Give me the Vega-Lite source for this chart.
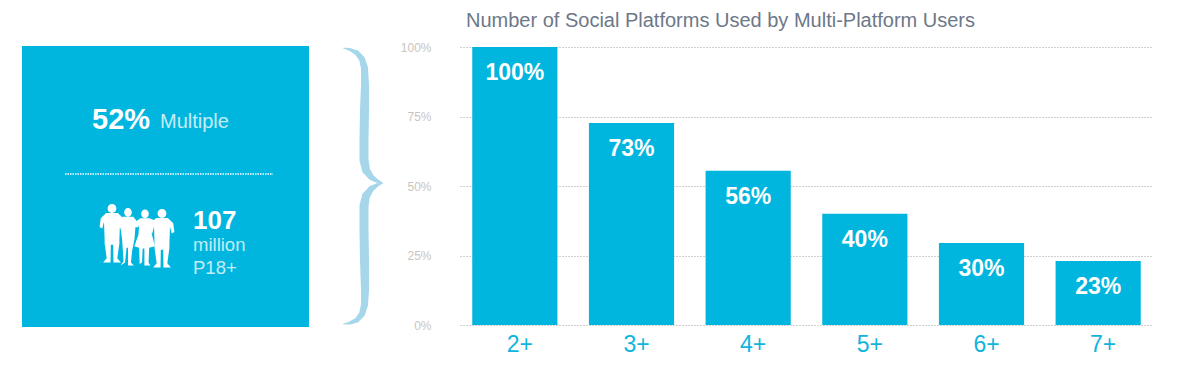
{
"$schema":"https://vega.github.io/schema/vega-lite/v6.json",
"background":"white",
"padding":{"left":22,"top":11,"right":0,"bottom":0},
"bounds":"flush",
"spacing":0,
"config":{"view":{"stroke":null},"font":"Liberation Sans"},
"hconcat":[
{"width":287,"height":281,"view":{"fill":"#00b6de","stroke":null},
 "layer":[
 {"data":{"values":[{"a":43,"b":251,"y":128}]},
  "mark":{"type":"rule","color":"#ffffff","strokeWidth":1.5,"strokeDash":[1.5,1]},
  "encoding":{"x":{"field":"a","type":"quantitative","scale":{"domain":[0,287]},"axis":null},"x2":{"field":"b"},"y":{"field":"y","type":"quantitative","scale":{"domain":[281,0]},"axis":null}}},
 {"data":{"values":[{"t":"52%","x":70,"y":74}]},
  "mark":{"type":"text","align":"left","baseline":"middle","fontWeight":"bold","fontSize":29,"color":"white"},
  "encoding":{"x":{"field":"x","type":"quantitative","scale":{"domain":[0,287]},"axis":null},"y":{"field":"y","type":"quantitative","scale":{"domain":[281,0]},"axis":null},"text":{"field":"t"}}},
 {"data":{"values":[{"t":"Multiple","x":138,"y":76}]},
  "mark":{"type":"text","align":"left","baseline":"middle","fontSize":20,"color":"#c5edf8"},
  "encoding":{"x":{"field":"x","type":"quantitative","scale":{"domain":[0,287]},"axis":null},"y":{"field":"y","type":"quantitative","scale":{"domain":[281,0]},"axis":null},"text":{"field":"t"}}},
 {"data":{"values":[{"t":"107","x":171,"y":175}]},
  "mark":{"type":"text","align":"left","baseline":"middle","fontWeight":"bold","fontSize":26,"color":"white"},
  "encoding":{"x":{"field":"x","type":"quantitative","scale":{"domain":[0,287]},"axis":null},"y":{"field":"y","type":"quantitative","scale":{"domain":[281,0]},"axis":null},"text":{"field":"t"}}},
 {"data":{"values":[{"t":"million","x":171,"y":199},{"t":"P18+","x":171,"y":222}]},
  "mark":{"type":"text","align":"left","baseline":"middle","fontSize":18.5,"color":"#c5edf8"},
  "encoding":{"x":{"field":"x","type":"quantitative","scale":{"domain":[0,287]},"axis":null},"y":{"field":"y","type":"quantitative","scale":{"domain":[281,0]},"axis":null},"text":{"field":"t"}}},
 {"data":{"values":[{"figure":"a","x":90,"y":187},{"figure":"b","x":106,"y":190},{"figure":"c","x":123,"y":190},{"figure":"a","x":140,"y":192}]},
  "mark":{"type":"point","filled":true,"opacity":1,"size":3500,"color":"white","strokeWidth":0},
  "encoding":{"x":{"field":"x","type":"quantitative","scale":{"domain":[0,287]},"axis":null},"y":{"field":"y","type":"quantitative","scale":{"domain":[281,0]},"axis":null},
   "shape":{"field":"figure","legend":null,"scale":{"domain":["a","b","c"],"range":[
    "M-.15,-.83a.15,.15 0 1,0 .3,0a.15,.15 0 1,0 -.3,0ZM-.2,-.68L.2,-.68L.38,-.5L.42,-.2L.33,-.15L.27,-.38L.25,.2L.25,.35L.18,.85L.3,1L.05,1L.04,.4L-.04,.4L-.05,1L-.3,1L-.18,.85L-.25,.35L-.25,.2L-.27,-.38L-.33,-.15L-.42,-.2L-.38,-.5Z",
    "M-.13,-.8a.13,.15 0 1,0 .26,0a.13,.15 0 1,0 -.26,0ZM-.18,-.65L.18,-.65L.34,-.45L.36,-.3L.25,-.3L.22,.1L.14,.5L.1,.9L.2,1L0,1L0,.4L-.05,.4L-.1,.9L-.25,1L-.15,.85L-.2,.1L-.25,-.25L-.36,-.3L-.34,-.45Z",
    "M-.13,-.75a.13,.15 0 1,0 .26,0a.13,.15 0 1,0 -.26,0ZM-.15,-.6L.15,-.6L.4,-.5L.4,-.4L.2,-.4L.22,-.1L.34,.35L.14,.4L.12,.9L.18,1L-.02,1L-.02,.42L-.08,.42L-.1,.9L-.18,.95L-.2,.4L-.36,.35L-.22,-.05L-.2,-.35L-.42,-.4L-.3,-.5Z"
   ]}}}}
 ]},
{"width":151,"height":281,
 "data":{"values":[
 {"i":1,"x":343,"y":48,"w":0.5},{"i":2,"x":350,"y":49.5,"w":3},{"i":3,"x":357,"y":53,"w":5},{"i":4,"x":362,"y":59,"w":6},{"i":5,"x":364.5,"y":68,"w":7},{"i":6,"x":365,"y":85,"w":8},{"i":7,"x":364.5,"y":110,"w":9},{"i":8,"x":364,"y":140,"w":9},{"i":9,"x":364,"y":160,"w":9},{"i":10,"x":366,"y":170,"w":8},{"i":11,"x":371,"y":177,"w":6},{"i":12,"x":377,"y":181,"w":3.5},{"i":13,"x":383,"y":183,"w":0.5},{"i":14,"x":377,"y":185,"w":3.5},{"i":15,"x":371,"y":189,"w":6},{"i":16,"x":366,"y":196,"w":8},{"i":17,"x":364,"y":206,"w":9},{"i":18,"x":364,"y":230,"w":9},{"i":19,"x":364.5,"y":260,"w":9},{"i":20,"x":365,"y":290,"w":8},{"i":21,"x":364.5,"y":305,"w":7},{"i":22,"x":362,"y":314,"w":6},{"i":23,"x":357,"y":320,"w":5},{"i":24,"x":350,"y":323,"w":3},{"i":25,"x":343,"y":324,"w":0.5}
 ]},
 "mark":{"type":"trail","color":"#a5d6ea"},
 "encoding":{
  "x":{"field":"x","type":"quantitative","scale":{"domain":[309,460]},"axis":null},
  "y":{"field":"y","type":"quantitative","scale":{"domain":[327,46]},"axis":null},
  "size":{"field":"w","type":"quantitative","scale":null,"legend":null},
  "order":{"field":"i"}
 }},
{"width":693,"height":281,
 "title":{"text":"Number of Social Platforms Used by Multi-Platform Users","anchor":"start","frame":"group","dx":6,"offset":10,"fontSize":20,"fontWeight":"normal","color":"#6d7889","font":"Liberation Sans"},
 "data":{"values":[
 {"n":"2+","v":100,"t":"100%"},{"n":"3+","v":72.7,"t":"73%"},{"n":"4+","v":55.5,"t":"56%"},{"n":"5+","v":40,"t":"40%"},{"n":"6+","v":29.5,"t":"30%"},{"n":"7+","v":23,"t":"23%"}
 ]},
 "encoding":{
  "x":{"field":"n","type":"nominal","sort":null,"title":null,"scale":{"paddingInner":0.27,"paddingOuter":0.105},
   "axis":{"labelAngle":0,"domain":false,"ticks":false,"labelFontSize":23,"labelColor":"#10b4dc","labelPadding":6,"labelOffset":5,"labelFont":"Liberation Sans"}},
  "y":{"field":"v","type":"quantitative","title":null,"scale":{"domain":[0,100],"range":[279,1]},
   "axis":{"values":[0,25,50,75,100],"labelExpr":"datum.value + '%'","domain":false,"ticks":false,"labelFontSize":12,"labelColor":"#c9c5c2","labelPadding":29,"grid":true,"gridColor":"#a0a0a0","gridDash":[1,2],"gridWidth":1,"labelFont":"Liberation Sans"}}
 },
 "layer":[
  {"mark":{"type":"bar","color":"#00b6de"}},
  {"mark":{"type":"text","color":"white","fontWeight":"bold","fontSize":23,"baseline":"middle","dy":26},"encoding":{"text":{"field":"t"}}}
 ]}
]}
